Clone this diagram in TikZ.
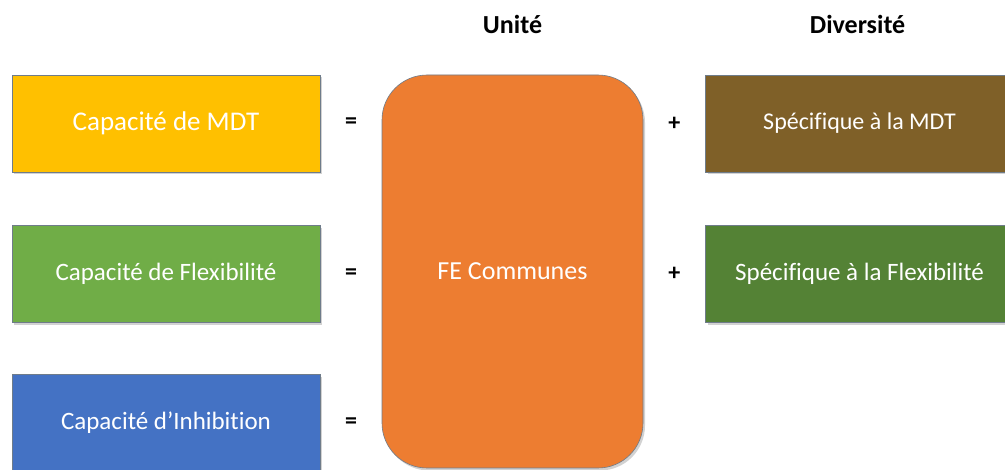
\documentclass[tikz,border=0pt]{standalone}
\usepackage{fontspec}
\setmainfont{Carlito}[Ligatures=CommonOff]
\usetikzlibrary{positioning,calc,shadows}

\definecolor{mdtyellow}{HTML}{FFC000}
\definecolor{flexgreen}{HTML}{70AD47}
\definecolor{inhblue}{HTML}{4472C4}
\definecolor{feorange}{HTML}{ED7D31}
\definecolor{mdtbrown}{HTML}{7F6028}
\definecolor{flexdark}{HTML}{548235}
\definecolor{edgegray}{HTML}{6F7C8A}

\begin{document}
\begin{tikzpicture}[x=1pt,y=-1pt,
  box/.style={rectangle,draw=edgegray,line width=0.6pt,fill=#1,
    minimum width=308pt,minimum height=97pt,inner sep=0pt,text=white,
    font=\fontsize{25}{30}\selectfont,
    drop shadow={shadow xshift=2pt,shadow yshift=-2.5pt,opacity=0.35}},
  sign/.style={font=\bfseries\fontsize{24}{28}\selectfont},
  header/.style={font=\bfseries\fontsize{26}{30}\selectfont}]
  \useasboundingbox[fill=white] (0,0) rectangle (1005,470);

  % left column
  \node[box=mdtyellow,font=\fontsize{27}{32}\selectfont] (mdt) at (166,123.5) {Capacité de MDT};
  \node[box=flexgreen,below=53pt of mdt] (flex) {Capacité de Flexibilité};
  \node[box=inhblue,below=51pt of flex] (inh) {Capacité d’Inhibition};

  % common part
  \node[box=feorange,rounded corners=45pt,minimum width=261pt,
    minimum height=393pt,font=\fontsize{26}{30}\selectfont] (fe) at (512.5,271.5) {FE Communes};

  % specific part
  \node[box=mdtbrown,right=62pt of fe.north east,anchor=north west,
    font=\fontsize{24}{28}\selectfont] (spmdt) {Spécifique à la MDT};
  \node[box=flexdark,below=53pt of spmdt] (spflex) {Spécifique à la Flexibilité};

  \node[sign] (eqmdt) at ($(mdt.east)!.5!(fe.west |- mdt.east)$) {=};
  \node[sign] (eqflex) at ($(flex.east)!.5!(fe.west |- flex.east)$) {=};
  \node[sign] (eqinh) at ($(inh.east)!.5!(fe.west |- inh.east)$) {=};
  \node[sign] (plusmdt) at ($(fe.east |- spmdt.west)!.5!(spmdt.west)$) {+};
  \node[sign] (plusflex) at ($(fe.east |- spflex.west)!.5!(spflex.west)$) {+};

  \node[header] (unite) at ($(fe.north)+(0,-50)$) {Unité};
  \node[header] (divers) at ($(spmdt.north)+(-2,-50)$) {Diversité};
\end{tikzpicture}
\end{document}
